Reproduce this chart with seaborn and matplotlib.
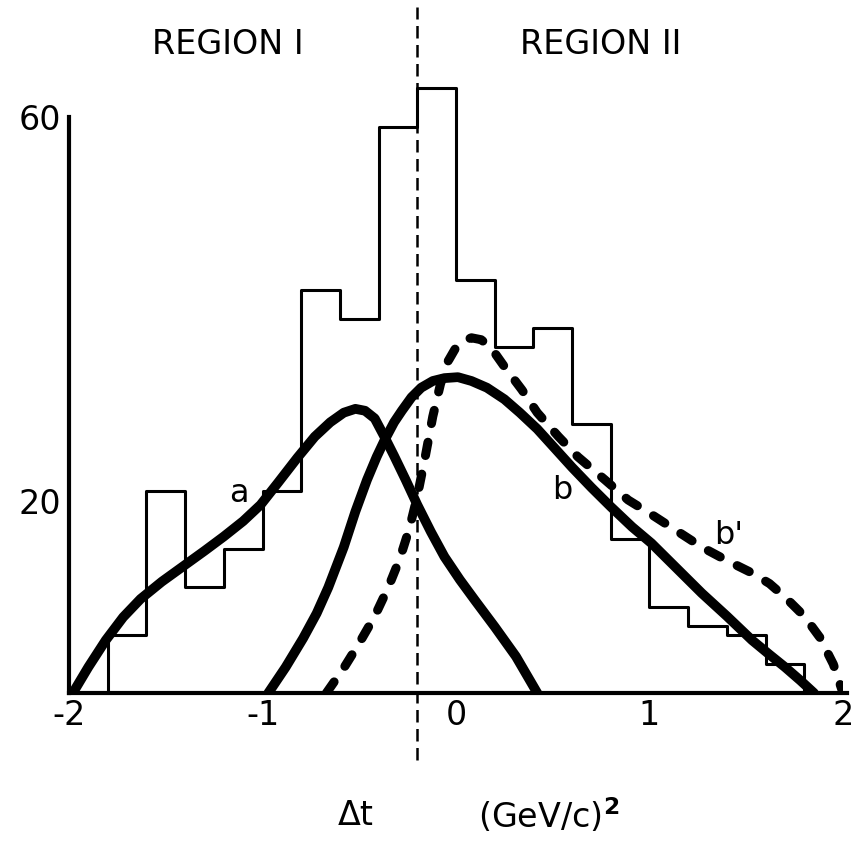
import numpy as np
import pandas as pd
import matplotlib
matplotlib.use("Agg")
import matplotlib.pyplot as plt
import seaborn as sns

# ---------------- data ----------------
bin_edges = [-2.0, -1.8, -1.6, -1.4, -1.2, -1.0, -0.8, -0.6, -0.4, -0.2, 0.0,
             0.2, 0.4, 0.6, 0.8, 1.0, 1.2, 1.4, 1.6, 1.8, 2.0]
bin_counts = [0, 6, 21, 11, 15, 21, 42, 39, 59, 63, 43,
              36, 38, 28, 16, 9, 7, 6, 3, 0]

curve_a_t = [-1.98, -1.9, -1.81, -1.72, -1.63, -1.52, -1.41, -1.3, -1.2, -1.1,
             -1.01, -0.92, -0.82, -0.73, -0.65, -0.58, -0.52, -0.47, -0.42,
             -0.37, -0.32, -0.26, -0.2, -0.13, -0.06, 0.02, 0.1, 0.2, 0.31, 0.42]
curve_a_y = [0, 2.7, 5.5, 7.9, 9.8, 11.6, 13.2, 14.8, 16.3, 17.9,
             19.6, 21.9, 24.5, 26.7, 28.2, 29.2, 29.6, 29.4, 28.6,
             26.7, 24.7, 22.2, 19.6, 16.8, 14.2, 11.8, 9.6, 6.9, 3.8, 0]

curve_b_t = [-0.97, -0.88, -0.79, -0.72, -0.66, -0.58, -0.52, -0.46, -0.41,
             -0.37, -0.32, -0.28, -0.23, -0.18, -0.12, -0.06, 0.01, 0.08, 0.16,
             0.25, 0.33, 0.42, 0.51, 0.60, 0.70, 0.80, 0.91, 1.01, 1.14, 1.27,
             1.40, 1.53, 1.62, 1.70, 1.78, 1.85]
curve_b_y = [0, 2.7, 5.7, 8.3, 11.0, 15.2, 18.9, 22.2, 24.6,
             26.3, 28.2, 29.4, 30.8, 31.8, 32.5, 32.8, 32.9, 32.5, 31.8,
             30.6, 29.2, 27.5, 25.5, 23.5, 21.4, 19.4, 17.3, 15.6, 13.0, 10.4,
             8.0, 5.5, 4.0, 2.7, 1.3, 0]

curve_bp_t = [-0.67, -0.58, -0.50, -0.42, -0.35, -0.29, -0.24, -0.20, -0.16,
              -0.12, -0.08, -0.04, 0.0, 0.04, 0.08, 0.13, 0.18, 0.25, 0.34,
              0.42, 0.53, 0.63, 0.77, 0.89, 1.01, 1.14, 1.27, 1.40, 1.53, 1.62,
              1.70, 1.80, 1.88, 1.95, 2.0]
curve_bp_y = [0, 2.6, 5.2, 8.0, 11.0, 14.0, 17.2, 20.5, 24.5,
              28.8, 32.2, 34.6, 36.0, 36.7, 37.0, 36.8, 36.0, 34.0, 31.6,
              29.2, 26.7, 24.6, 22.2, 20.1, 18.6, 16.9, 15.2, 13.8, 12.5, 11.4,
              10.0, 8.0, 5.8, 3.0, 0]

region_boundary = -0.2
y_ticks = [20, 40, 60]
y_tick_labels = ["20", "", "60"]
x_ticks = [-2, -1, 0, 1, 2]
x_tick_labels = ["-2", "-1", "0", "1", "2"]

# ---------------- style ----------------
sns.set_theme(style="white")
plt.rcParams["font.family"] = ["DejaVu Sans"]
plt.rcParams["axes.unicode_minus"] = False
plt.rcParams["text.color"] = "black"

fig = plt.figure(figsize=(8.54, 8.57), dpi=100)
ax = fig.add_axes([69 / 854, 164 / 857, 774 / 854, 672 / 857])

centers = [(bin_edges[i] + bin_edges[i + 1]) / 2 for i in range(len(bin_counts))]
hist_df = pd.DataFrame({"t": centers, "n": bin_counts})
sns.histplot(data=hist_df, x="t", weights="n", bins=bin_edges, element="step",
             fill=False, color="black", linewidth=2.2, ax=ax)

sns.lineplot(x=curve_a_t, y=curve_a_y, sort=False, estimator=None, ax=ax,
             color="black", linewidth=7, solid_capstyle="round",
             solid_joinstyle="round")
sns.lineplot(x=curve_b_t, y=curve_b_y, sort=False, estimator=None, ax=ax,
             color="black", linewidth=7, solid_capstyle="round",
             solid_joinstyle="round")
sns.lineplot(x=curve_bp_t, y=curve_bp_y, sort=False, estimator=None, ax=ax,
             color="black", linewidth=6.5, linestyle=(0, (1.5, 2.1)),
             dash_capstyle="round")

# dividing line between regions (extends beyond the axes)
ax.plot([region_boundary, region_boundary], [-7.0, 71.5], color="black",
        linewidth=1.8, linestyle=(0, (5, 2.6)), clip_on=False)

ax.set_xlim(-2, 2)
ax.set_ylim(0, 70)
ax.set_xlabel("")
ax.set_ylabel("")

for s in ["top", "right"]:
    ax.spines[s].set_visible(False)
for s in ["left", "bottom"]:
    ax.spines[s].set_linewidth(3)
    ax.spines[s].set_color("black")
ax.spines["left"].set_bounds(0, 60)
ax.spines["bottom"].set_bounds(-2, 2.02)

ax.set_yticks(y_ticks)
ax.set_yticklabels(y_tick_labels)
ax.set_xticks(x_ticks)
ax.set_xticklabels(x_tick_labels)
ax.tick_params(axis="both", direction="in", length=14, width=3, color="black",
               labelsize=24, labelcolor="black")
ax.tick_params(axis="y", pad=6)
ax.tick_params(axis="x", pad=4)

# labels
ax.text(-1.18, 67.5, "REGION I", fontsize=24, ha="center", va="center")
ax.text(0.75, 67.5, "REGION II", fontsize=24, ha="center", va="center")
ax.text(-1.12, 20.8, "a", fontsize=23, ha="center", va="center")
ax.text(0.55, 21.1, "b", fontsize=23, ha="center", va="center")
ax.text(1.41, 16.4, "b'", fontsize=23, ha="center", va="center")
ax.text(-0.52, -12.8, "Δt", fontsize=24, ha="center", va="center")
ax.text(0.48, -12.8, "(GeV/c)$^{\\mathbf{2}}$", fontsize=24, ha="center", va="center")

fig.savefig("out.png", dpi=100, facecolor="white")
